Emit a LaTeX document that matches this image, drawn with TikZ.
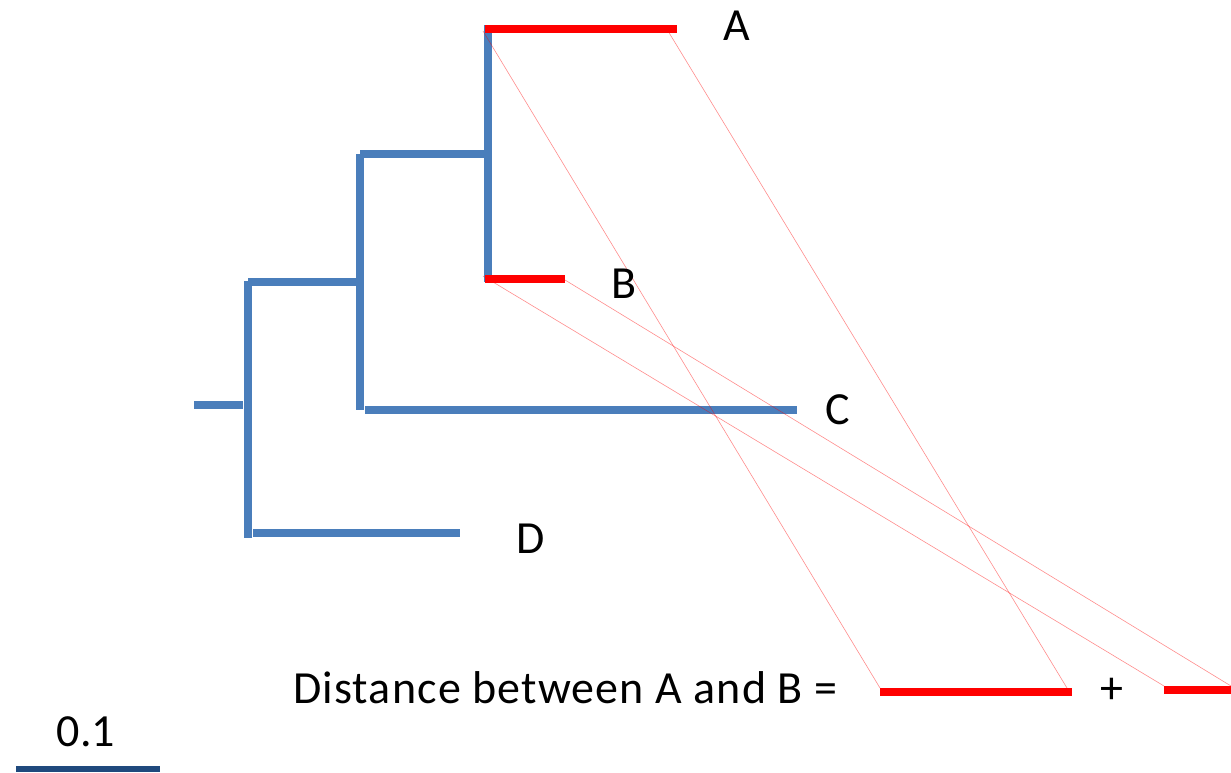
\documentclass[tikz,border=0pt]{standalone}
\usepackage{fontspec}
\setmainfont{Carlito}
\newfontfamily\spacedfont[LetterSpace=2.5]{Carlito}
\begin{document}
\begin{tikzpicture}[x=1pt,y=-1pt,
  branch/.style={draw={rgb,255:red,74;green,126;blue,187},line width=8pt},
  hl/.style={draw=red,line width=8pt},
  guide/.style={draw=red,line width=0.6pt,opacity=0.45},
  lbl/.style={font=\fontsize{46}{52}\selectfont,anchor=base,inner sep=0pt}]
\useasboundingbox (0,0) rectangle (1231,772);
% tree coordinates
\coordinate (stubL) at (194,405);
\coordinate (stubR) at (243,405);
\coordinate (v1t) at (248,281);
\coordinate (v1b) at (248,538);
\coordinate (h1l) at (248,282);
\coordinate (h1r) at (356,282);
\coordinate (v2t) at (360,154);
\coordinate (v2b) at (360,410);
\coordinate (h2l) at (360,154);
\coordinate (h2r) at (488,154);
\coordinate (v3t) at (488,25);
\coordinate (v3b) at (488,282);
\coordinate (cl) at (365,410);
\coordinate (cr) at (797,410);
\coordinate (dl) at (253,533);
\coordinate (dr) at (460,533);
\coordinate (al) at (485,29);
\coordinate (ar) at (677,29);
\coordinate (bl) at (485,279);
\coordinate (br) at (565,279);
\coordinate (ml) at (880,692);
\coordinate (mr) at (1072,692);
\coordinate (sl) at (1164,690);
\coordinate (sr) at (1231,690);
% blue branches
\draw[branch] (stubL) -- (stubR);
\draw[branch] (v1t) -- (v1b);
\draw[branch] (h1l) -- (h1r);
\draw[branch] (v2t) -- (v2b);
\draw[branch] (h2l) -- (h2r);
\draw[branch] (v3t) -- (v3b);
\draw[branch] (cl) -- (cr);
\draw[branch] (dl) -- (dr);
% red branches
\draw[hl] (al) -- (ar);
\draw[hl] (bl) -- (br);
\draw[hl] (ml) -- (mr);
\draw[hl] (sl) -- (sr);
% guide lines
\coordinate (g1a) at (483,31);
\coordinate (g1b) at (880,688);
\coordinate (g2a) at (668,31);
\coordinate (g2b) at (1067,688);
\coordinate (g3a) at (483,276);
\coordinate (g3b) at (1164,686);
\coordinate (g4a) at (565,280);
\coordinate (g4b) at (1231,686);
\draw[guide] (g1a) -- (g1b);
\draw[guide] (g2a) -- (g2b);
\draw[guide] (g3a) -- (g3b);
\draw[guide] (g4a) -- (g4b);
% labels
\node[lbl] (A) at (737,40) {A};
\node[lbl] (B) at (624,298) {B};
\node[lbl] (C) at (838,424) {C};
\node[lbl] (D) at (531,553) {D};
\node[lbl,anchor=base west,font=\fontsize{46}{52}\spacedfont] (dist) at (293,703) {Distance between A and B =};
\node[lbl] (plus) at (1112,703) {+};
\node[lbl] (scale) at (86,746) {0.1};
\coordinate (sb1) at (16,769);
\coordinate (sb2) at (160,769);
\draw[draw={rgb,255:red,31;green,73;blue,125},line width=6pt] (sb1) -- (sb2);
\end{tikzpicture}
\end{document}
